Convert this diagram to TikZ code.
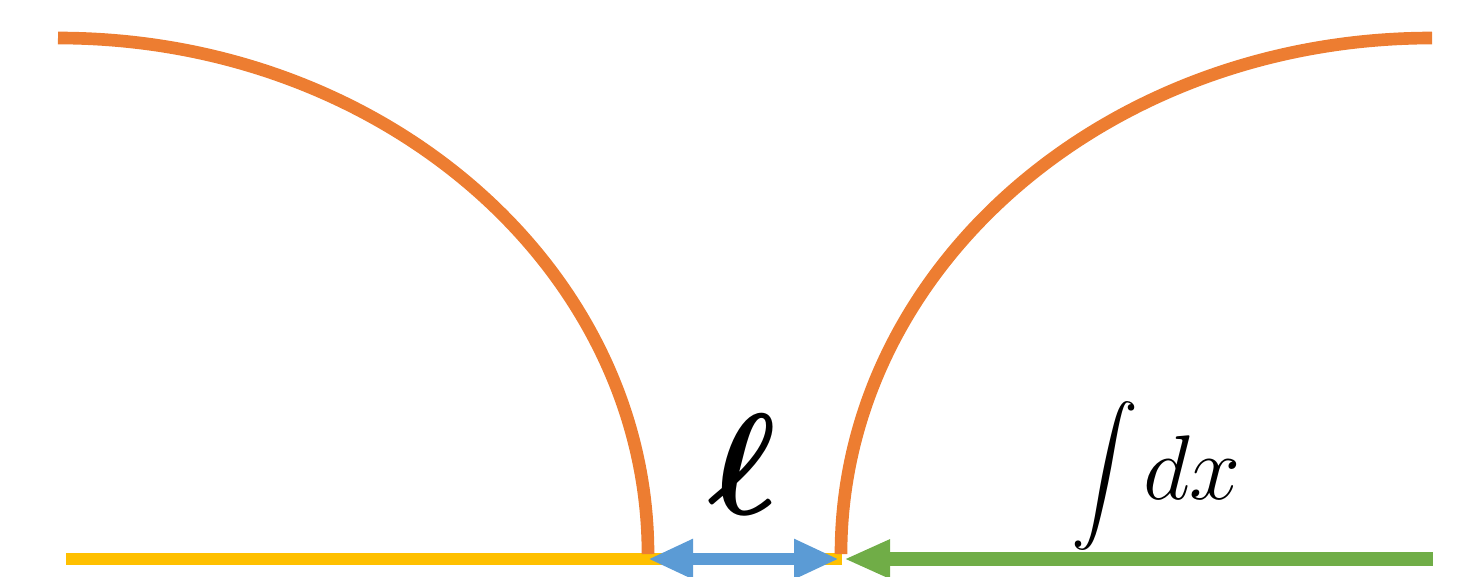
\documentclass[tikz,border=0pt]{standalone}
\usepackage{tikz}
\usetikzlibrary{arrows.meta, calc}
\usepackage{amsmath, amssymb, bm}

\definecolor{arcorange}{HTML}{ED7D31}
\definecolor{baseyellow}{HTML}{FFC000}
\definecolor{gapblue}{HTML}{5B9BD5}
\definecolor{intgreen}{HTML}{70AD47}

\begin{document}
\begin{tikzpicture}[
    >=Stealth,
    arcline/.style={draw=arcorange, line width=3.6pt},
    baseline/.style={draw=baseyellow, line width=3.6pt},
    gaparrow/.style={draw=gapblue, line width=3.6pt, {Triangle[length=4.5mm, width=3.7mm]}-{Triangle[length=4.5mm, width=3.7mm]}},
    intarrow/.style={draw=intgreen, line width=3.8pt, {Triangle[length=4.6mm, width=3.6mm]}-},
]
\useasboundingbox (0,0) rectangle (14.69,5.76);

% Anchor points
\coordinate (ltop) at (0.58,5.38);
\coordinate (rtop) at (14.32,5.38);
\coordinate (ybeg) at (0.66,0.17);
\coordinate (yend) at (8.42,0.17);
\coordinate (gl) at (6.48,0.17);
\coordinate (gr) at (8.39,0.17);
\coordinate (il) at (8.44,0.17);
\coordinate (ir) at (14.33,0.17);

% Base line
\draw[baseline] (ybeg) -- (yend);

% Left arc
\draw[arcline] (ltop) arc[start angle=90, end angle=0, x radius=5.90, y radius=5.16];

% Right arc
\draw[arcline] (rtop) arc[start angle=90, end angle=180, x radius=5.91, y radius=5.16];

% Arrows
\draw[gaparrow] (gl) -- (gr);
\draw[intarrow] (il) -- (ir);

% Labels
\node[scale=1.65] (ell) at (7.43,1.12) {\Huge $\bm{\ell}$};
\node[scale=0.92] (intsign) at (11.05,1.0) {\huge $\displaystyle\int$};
\node[right=0pt, scale=1.05] (dx) at (11.30,1.08) {\Huge $dx$};

\end{tikzpicture}
\end{document}
